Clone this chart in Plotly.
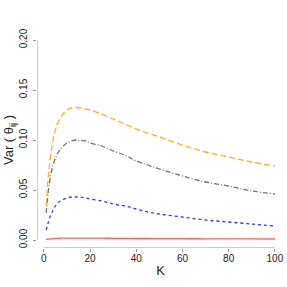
import plotly.graph_objects as go

K = [1, 2, 3, 4, 5, 6, 8, 10, 12, 14, 16, 18, 20, 25, 30, 35, 40, 45, 50, 60, 70, 80, 90, 100]
orange_vals = [0.035, 0.065, 0.085, 0.100, 0.110, 0.117, 0.125, 0.130, 0.132, 0.1325, 0.132, 0.131, 0.130,
               0.126, 0.121, 0.116, 0.111, 0.107, 0.103, 0.095, 0.088, 0.083, 0.078, 0.074]
gray_vals = [0.027, 0.050, 0.065, 0.075, 0.082, 0.087, 0.093, 0.097, 0.099, 0.100, 0.0995, 0.099, 0.097,
             0.094, 0.089, 0.085, 0.079, 0.075, 0.071, 0.064, 0.058, 0.054, 0.049, 0.046]
blue_vals = [0.010, 0.018, 0.025, 0.030, 0.034, 0.037, 0.040, 0.042, 0.043, 0.043, 0.0428, 0.042, 0.041,
             0.039, 0.036, 0.034, 0.031, 0.028, 0.026, 0.023, 0.020, 0.018, 0.016, 0.014]
red_vals = [0.0005, 0.0009, 0.0012, 0.0014, 0.0016, 0.0017, 0.0018, 0.0019, 0.0019, 0.0019, 0.0019, 0.0019,
            0.0018, 0.0018, 0.0017, 0.0016, 0.0015, 0.0015, 0.0014, 0.0013, 0.0012, 0.0011, 0.0011, 0.0010]

x_ticks = [0, 20, 40, 60, 80, 100]
y_ticks = [0.00, 0.05, 0.10, 0.15, 0.20]
y_tick_text = ["0.00", "0.05", "0.10", "0.15", "0.20"]

fig = go.Figure()
fig.add_trace(go.Scatter(x=K, y=red_vals, mode="lines", line=dict(color="#FF6060", width=1.3),
                         line_shape="spline"))
fig.add_trace(go.Scatter(x=K, y=blue_vals, mode="lines", line=dict(color="#3333FF", width=1.3, dash="3px,3px"),
                         line_shape="spline"))
fig.add_trace(go.Scatter(x=K, y=gray_vals, mode="lines", line=dict(color="#707070", width=1.3, dash="5px,2px,1px,2px"),
                         line_shape="spline"))
fig.add_trace(go.Scatter(x=K, y=orange_vals, mode="lines", line=dict(color="#FFB020", width=1.3, dash="6px,3px"),
                         line_shape="spline"))

xr = [-2.96, 103.96]
yr = [-0.008, 0.208]
axis_col = "#999999"
# R-style axis lines spanning the tick range only
fig.add_shape(type="line", x0=0, x1=100, y0=yr[0], y1=yr[0], line=dict(color=axis_col, width=1))
fig.add_shape(type="line", x0=xr[0], x1=xr[0], y0=0, y1=0.20, line=dict(color=axis_col, width=1))

fig.update_layout(
    width=287, height=287,
    margin=dict(l=37, r=3, t=32, b=39, autoexpand=False),
    paper_bgcolor="white", plot_bgcolor="white",
    showlegend=False,
    font=dict(family="Liberation Sans, Arial, sans-serif", color="#222222"),
)
fig.update_xaxes(range=xr, tickvals=x_ticks, ticks="outside", ticklen=3, tickcolor=axis_col,
                 showgrid=False, zeroline=False, showline=False, tickfont=dict(size=10),
                 automargin=False, ticklabelstandoff=-2,
                 title=dict(text="K", font=dict(size=13), standoff=2))
fig.update_yaxes(range=yr, tickvals=y_ticks, ticktext=y_tick_text, ticks="outside", ticklen=3,
                 tickcolor=axis_col, tickangle=-90, showgrid=False, zeroline=False, showline=False,
                 tickfont=dict(size=10), automargin=False, ticklabelstandoff=2,
                 title=dict(text="Var ( θ<sub>ij</sub> )", font=dict(size=13), standoff=1))

fig.write_html("out.html", config={"displayModeBar": False},
               post_script="document.body.style.margin='0';document.body.style.padding='0';")
